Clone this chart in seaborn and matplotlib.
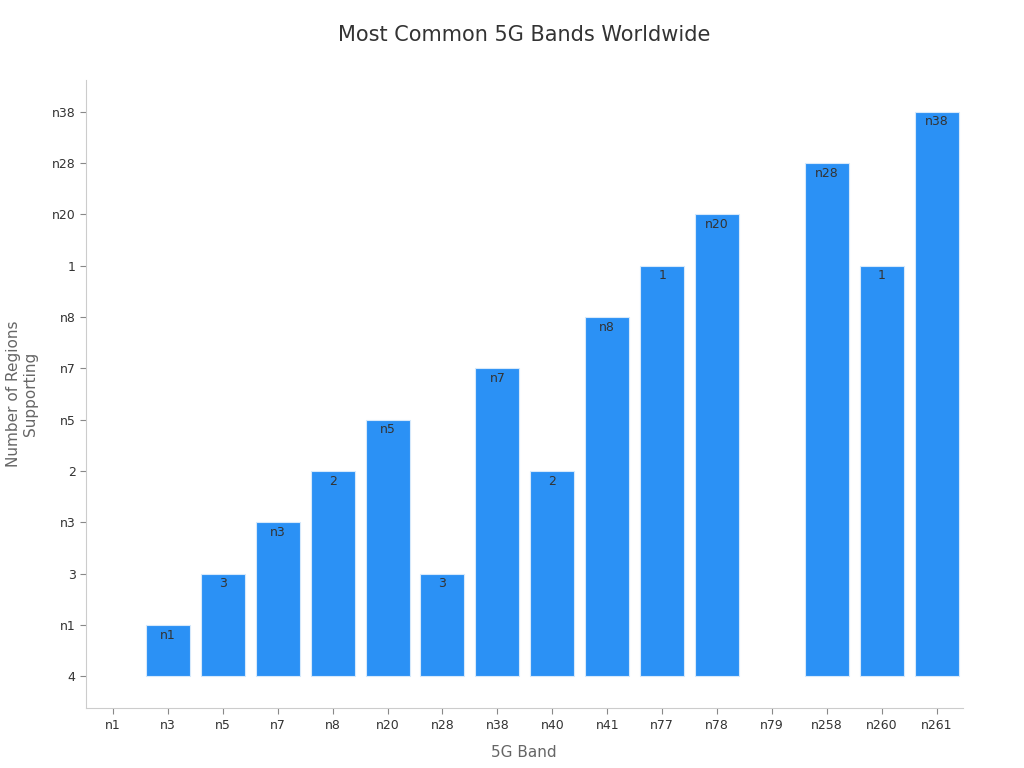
import pandas as pd
import matplotlib
matplotlib.use("Agg")
import matplotlib.pyplot as plt
import seaborn as sns

# Bands on the x axis
bands = ["n1", "n3", "n5", "n7", "n8", "n20", "n28", "n38", "n40",
         "n41", "n77", "n78", "n79", "n258", "n260", "n261"]

# y axis is categorical (bottom to top)
y_categories = ["4", "n1", "3", "n3", "2", "n5", "n7", "n8", "1", "n20", "n28", "n38"]

# value shown for each band (a y category)
band_values = ["4", "n1", "3", "n3", "2", "n5", "3", "n7", "2",
               "n8", "1", "n20", "4", "n28", "1", "n38"]

df = pd.DataFrame({"band": bands, "value": band_values})
df["pos"] = df["value"].map({c: i for i, c in enumerate(y_categories)})

sns.set_style("ticks")
plt.rcParams["font.family"] = ["DejaVu Sans"]

fig = plt.figure(figsize=(10.24, 7.68), dpi=100)
ax = fig.add_axes([0.084, 0.078, 0.856, 0.818])

sns.barplot(data=df, x="band", y="pos", color="#2b91f5", saturation=1,
            width=0.8, edgecolor="#d6e9fb", linewidth=0.8, ax=ax)

# no outline on the empty bars
for patch in ax.patches:
    if patch.get_height() == 0:
        patch.set_linewidth(0)

# label inside the top of each bar
for i, row in df.iterrows():
    if row["pos"] > 0:
        ax.text(i, row["pos"] - 0.2, row["value"], ha="center", va="center",
                fontsize=9, color="#333333")

ax.set_yticks(range(len(y_categories)))
ax.set_yticklabels(y_categories)
ax.set_ylim(-0.62, 11.62)
ax.set_xlim(-0.49, 15.47)

ax.set_title("Most Common 5G Bands Worldwide", fontsize=15, color="#333333", pad=28)
ax.set_xlabel("5G Band", fontsize=11, color="#666666", labelpad=10)
ax.set_ylabel("Number of Regions\nSupporting", fontsize=11, color="#666666", labelpad=10)

ax.tick_params(axis="both", labelsize=9, labelcolor="#333333", length=4, width=0.8,
               color="#888888")
sns.despine(ax=ax)
for s in ["left", "bottom"]:
    ax.spines[s].set_color("#cccccc")
    ax.spines[s].set_linewidth(0.8)

fig.savefig("out.png", dpi=100)
